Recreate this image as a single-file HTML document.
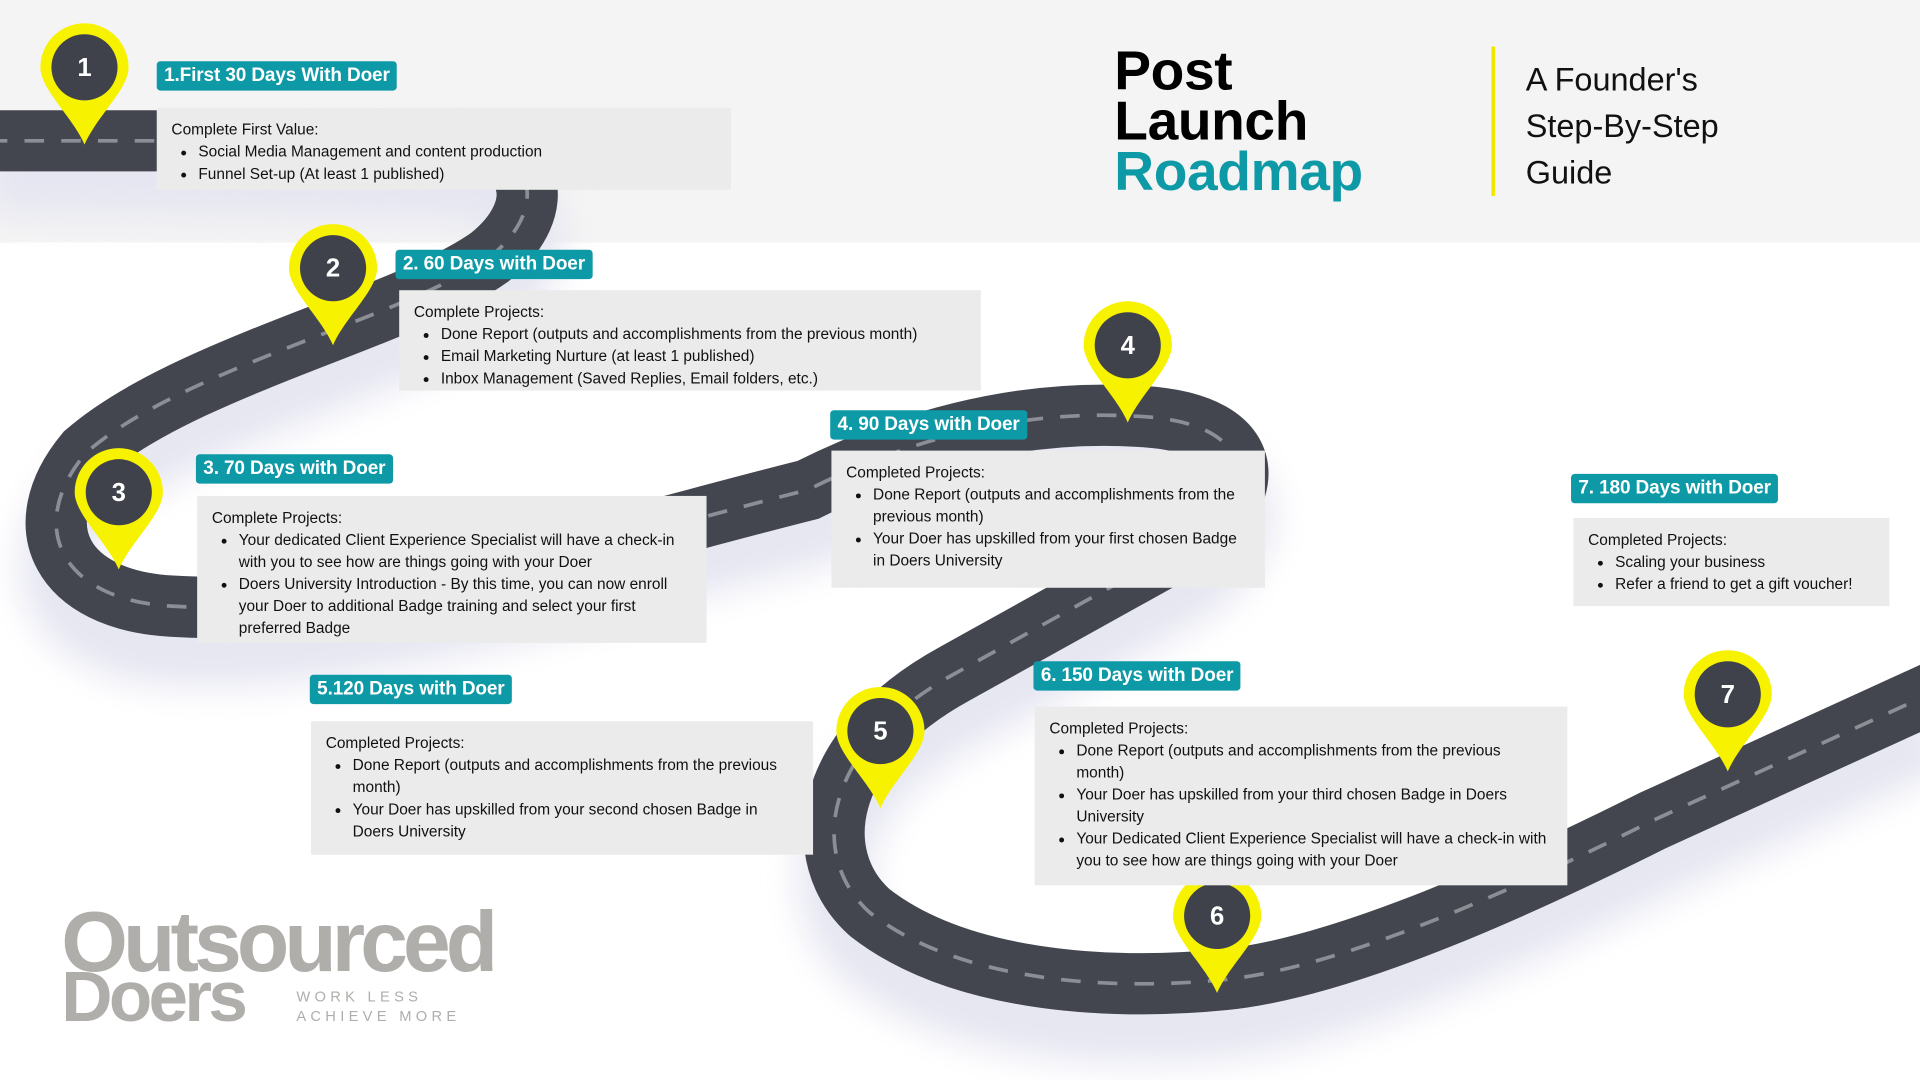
<!DOCTYPE html>
<html><head><meta charset="utf-8"><style>
html,body{margin:0;padding:0;width:1920px;height:1080px;overflow:hidden;background:#fff}
#w{position:absolute;left:0;top:0;width:1568px;height:882px;transform:scale(1.22449);transform-origin:0 0;font-family:"Liberation Sans",sans-serif;background:#fff}
.band{position:absolute;left:0;top:0;width:1568px;height:198px;background:#f4f4f4}
.lab{position:absolute;background:#0d9aa6;color:#fff;font-weight:bold;font-size:15.5px;line-height:24px;padding:0 6px;border-radius:3px;white-space:nowrap;letter-spacing:-0.1px}
.box{position:absolute;background:#ebebeb;color:#111;font-size:12.6px;line-height:18px;padding:9px 12px;box-sizing:border-box}
.box ul{margin:0;padding-left:22px}
.t{position:absolute;font-weight:bold;font-size:45px;line-height:40px;color:#000;letter-spacing:-0.3px}
.r{position:absolute;font-size:26.5px;line-height:38px;color:#111}
</style></head><body><div id="w">
<div class="band"></div>
<svg width="1568" height="882" style="position:absolute;left:0;top:0">
<defs><filter id="b"><feGaussianBlur stdDeviation="14"/></filter></defs>
<path d="M -10 145 L 360 150 C 440 150 450 205 400 245 C 330 295 150 335 70 405 C 20 465 50 525 140 530 C 300 540 500 470 660 435 C 760 385 850 370 930 375 C 1035 380 1030 445 960 485 L 780 585 C 670 645 660 735 710 780 C 780 835 900 845 1000 835 C 1100 825 1250 755 1350 705 L 1580 600" fill="none" stroke="#e6e6f2" stroke-width="60" filter="url(#b)"/>
<path d="M -10 115 L 360 115 C 440 115 450 170 400 210 C 330 260 150 300 70 370 C 20 430 50 490 140 495 C 300 505 500 440 660 400 C 760 350 850 335 930 340 C 1035 345 1030 410 960 450 L 780 550 C 670 610 660 700 710 745 C 780 800 900 810 1000 800 C 1100 790 1250 720 1350 670 L 1580 565" fill="none" stroke="#44464f" stroke-width="50"/>
<path d="M -10 115 L 360 115 C 440 115 450 170 400 210 C 330 260 150 300 70 370 C 20 430 50 490 140 495 C 300 505 500 440 660 400 C 760 350 850 335 930 340 C 1035 345 1030 410 960 450 L 780 550 C 670 610 660 700 710 745 C 780 800 900 810 1000 800 C 1100 790 1250 720 1350 670 L 1580 565" fill="none" stroke="#8c8e95" stroke-width="3" stroke-dasharray="16 14"/>
</svg>
<svg width="1568" height="882" style="position:absolute;left:0;top:0">
<g font-family="Liberation Sans,sans-serif" font-weight="bold" font-size="21" fill="#fff" text-anchor="middle">
<g transform="translate(69,55)"><path d="M-36,0 A36,36 0 1 1 36,0 C36,18 10,40 0,63 C-10,40 -36,18 -36,0Z" fill="#f7f200"/><circle r="27" fill="#3f424b"/><text y="7">1</text></g>
<g transform="translate(272,219)"><path d="M-36,0 A36,36 0 1 1 36,0 C36,18 10,40 0,63 C-10,40 -36,18 -36,0Z" fill="#f7f200"/><circle r="27" fill="#3f424b"/><text y="7">2</text></g>
<g transform="translate(97,402)"><path d="M-36,0 A36,36 0 1 1 36,0 C36,18 10,40 0,63 C-10,40 -36,18 -36,0Z" fill="#f7f200"/><circle r="27" fill="#3f424b"/><text y="7">3</text></g>
<g transform="translate(921,282)"><path d="M-36,0 A36,36 0 1 1 36,0 C36,18 10,40 0,63 C-10,40 -36,18 -36,0Z" fill="#f7f200"/><circle r="27" fill="#3f424b"/><text y="7">4</text></g>
<g transform="translate(719,597)"><path d="M-36,0 A36,36 0 1 1 36,0 C36,18 10,40 0,63 C-10,40 -36,18 -36,0Z" fill="#f7f200"/><circle r="27" fill="#3f424b"/><text y="7">5</text></g>
<g transform="translate(994,748)"><path d="M-36,0 A36,36 0 1 1 36,0 C36,18 10,40 0,63 C-10,40 -36,18 -36,0Z" fill="#f7f200"/><circle r="27" fill="#3f424b"/><text y="7">6</text></g>
<g transform="translate(1411,567)"><path d="M-36,0 A36,36 0 1 1 36,0 C36,18 10,40 0,63 C-10,40 -36,18 -36,0Z" fill="#f7f200"/><circle r="27" fill="#3f424b"/><text y="7">7</text></g>
</g></svg>

<div class="lab" style="left:128px;top:50px">1.First 30 Days With Doer</div>
<div class="box" style="left:128px;top:88px;width:469px;height:67px">Complete First Value:<ul><li>Social Media Management and content production</li><li>Funnel Set-up (At least 1 published)</li></ul></div>

<div class="lab" style="left:323px;top:204px">2. 60 Days with Doer</div>
<div class="box" style="left:326px;top:237px;width:475px;height:82px">Complete Projects:<ul><li>Done Report (outputs and accomplishments from the previous month)</li><li>Email Marketing Nurture (at least 1 published)</li><li>Inbox Management (Saved Replies, Email folders, etc.)</li></ul></div>

<div class="lab" style="left:160px;top:371px">3. 70 Days with Doer</div>
<div class="box" style="left:161px;top:405px;width:416px;height:120px">Complete Projects:<ul><li>Your dedicated Client Experience Specialist will have a check-in with you to see how are things going with your Doer</li><li>Doers University Introduction - By this time, you can now enroll your Doer to additional Badge training and select your first preferred Badge</li></ul></div>

<div class="lab" style="left:678px;top:335px">4. 90 Days with Doer</div>
<div class="box" style="left:679px;top:368px;width:354px;height:112px">Completed Projects:<ul><li>Done Report (outputs and accomplishments from the previous month)</li><li>Your Doer has upskilled from your first chosen Badge in Doers University</li></ul></div>

<div class="lab" style="left:253px;top:551px">5.120 Days with Doer</div>
<div class="box" style="left:254px;top:589px;width:410px;height:109px">Completed Projects:<ul><li>Done Report (outputs and accomplishments from the previous month)</li><li>Your Doer has upskilled from your second chosen Badge in Doers University</li></ul></div>

<div class="lab" style="left:844px;top:540px">6. 150 Days with Doer</div>
<div class="box" style="left:845px;top:577px;width:435px;height:146px">Completed Projects:<ul><li>Done Report (outputs and accomplishments from the previous month)</li><li>Your Doer has upskilled from your third chosen Badge in Doers University</li><li>Your Dedicated Client Experience Specialist will have a check-in with you to see how are things going with your Doer</li></ul></div>

<div class="lab" style="left:1283px;top:387px">7. 180 Days with Doer</div>
<div class="box" style="left:1285px;top:423px;width:258px;height:72px">Completed Projects:<ul><li>Scaling your business</li><li>Refer a friend to get a gift voucher!</li></ul></div>

<div class="t" style="left:910px;top:38px">Post</div>
<div class="t" style="left:910px;top:79px">Launch</div>
<div class="t" style="left:910px;top:120px;color:#0d9aa6">Roadmap</div>
<div style="position:absolute;left:1218px;top:38px;width:3px;height:122px;background:#f2e600"></div>
<div class="r" style="left:1246px;top:46px">A Founder's</div>
<div class="r" style="left:1246px;top:84px">Step-By-Step</div>
<div class="r" style="left:1246px;top:122px">Guide</div>

<div style="position:absolute;left:50px;top:734px;font-weight:bold;font-size:70px;line-height:70px;color:#b0aeab;letter-spacing:-4px">Outsourced</div>
<div style="position:absolute;left:50px;top:786px;font-weight:bold;font-size:58px;line-height:58px;color:#b0aeab;letter-spacing:-3px">Doers</div>
<div style="position:absolute;left:242px;top:806px;font-size:12px;line-height:16px;color:#b0aeab;letter-spacing:3.5px">WORK LESS<br>ACHIEVE MORE</div>
</div></body></html>
